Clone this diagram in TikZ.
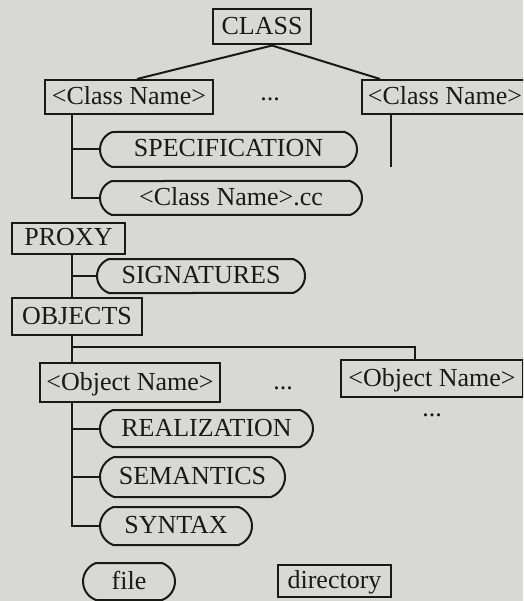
\documentclass[tikz,border=0pt]{standalone}
\usepackage{fontspec}
\setmainfont{Liberation Serif}
\usetikzlibrary{shapes.misc}
\definecolor{bg}{RGB}{216,216,213}
\definecolor{ink}{RGB}{25,25,25}
\tikzset{
  every node/.style={font=\fontsize{26}{29}\selectfont, text=ink},
  dirbox/.style={draw=ink, line width=2pt, rectangle, inner sep=0pt, text height=18pt, text depth=3pt},
  filebox/.style={draw=ink, line width=2pt, rounded rectangle, rounded rectangle arc length=140, inner sep=0pt, text height=18pt, text depth=3pt},
  conn/.style={draw=ink, line width=2pt},
  plain/.style={inner sep=0pt}
}
\begin{document}
\begin{tikzpicture}[x=1pt,y=-1pt]
\useasboundingbox[fill=bg] (0,0) rectangle (523,601);
\clip (0,0) rectangle (523,601);
% nodes
\node[dirbox, minimum width=98, minimum height=35] (class) at (262,27) {CLASS};
\node[dirbox, minimum width=168, minimum height=34] (cn1) at (129,97) {<Class Name>};
\node[plain] (dots1) at (270,99) {...};
\node[dirbox, minimum width=166, minimum height=34] (cn2) at (445,97) {<Class Name>};
\node[filebox, minimum width=257, minimum height=35] (spec) at (228.5,149.5) {SPECIFICATION};
\node[filebox, minimum width=262, minimum height=34] (cc) at (231,198) {<Class Name>.cc};
\node[dirbox, minimum width=113, minimum height=31] (proxy) at (68.5,238.5) {PROXY};
\node[filebox, minimum width=208, minimum height=34] (sig) at (201,276) {SIGNATURES};
\node[dirbox, minimum width=130, minimum height=37] (objects) at (77,316.5) {OBJECTS};
\node[dirbox, minimum width=180, minimum height=39] (on1) at (130,382.5) {<Object Name>};
\node[plain] (dots2) at (283,388) {...};
\node[dirbox, minimum width=182, minimum height=37] (on2) at (432,378.5) {<Object Name>};
\node[plain] (dots3) at (432,415) {...};
\node[filebox, minimum width=213, minimum height=37] (real) at (206.5,428.5) {REALIZATION};
\node[filebox, minimum width=185, minimum height=40] (sem) at (192.5,477) {SEMANTICS};
\node[filebox, minimum width=152, minimum height=38] (syn) at (176,526) {SYNTAX};
\node[filebox, minimum width=92, minimum height=37] (file) at (129,581.5) {file};
\node[dirbox, minimum width=113, minimum height=32] (dir) at (334.5,581) {directory};
% helper coordinates
\coordinate (t1) at (72,0);
\coordinate (e2) at (391,167);
\coordinate (objx) at (415,347);
% connectors
\draw[conn] ([xshift=10pt]class.south) -- ([xshift=8pt]cn1.north);
\draw[conn] ([xshift=10pt]class.south) -- ([xshift=-65pt]cn2.north);
\draw[conn] (cn1.south -| t1) |- (cc.west);
\draw[conn] (t1 |- spec.west) -- (spec.west);
\draw[conn] (cn2.south -| e2) -- (e2);
\draw[conn] (proxy.south -| t1) -- (objects.north -| t1);
\draw[conn] (t1 |- sig.west) -- (sig.west);
\draw[conn] (objects.south -| t1) -- (on1.north -| t1);
\draw[conn] (t1 |- objx) -- (objx) -- (on2.north -| objx);
\draw[conn] (on1.south -| t1) |- (syn.west);
\draw[conn] (t1 |- real.west) -- (real.west);
\draw[conn] (t1 |- sem.west) -- (sem.west);
\end{tikzpicture}
\end{document}
